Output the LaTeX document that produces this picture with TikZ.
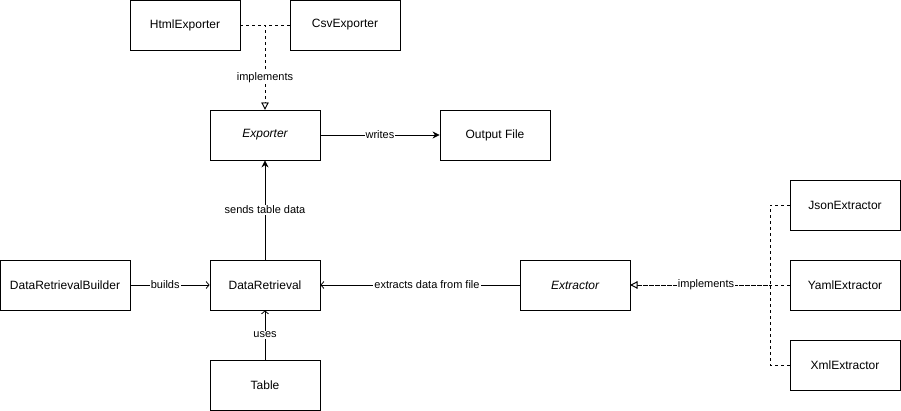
\documentclass[tikz,border=0pt]{standalone}
\usepackage{fontspec}
\setmainfont{Liberation Sans}
\usepackage{tikz}
\usetikzlibrary{arrows.meta}
\usetikzlibrary{positioning}
\tikzset{
  every node/.style={font=\fontsize{12}{14}\selectfont},
  every label/.style={font=\fontsize{11}{13}\selectfont}
}

\begin{document}
\begin{tikzpicture}[x=1pt,y=-1pt]
  % Define styles for classes and links
  \tikzset{
    cls/.style={
      draw,
      rectangle,
      fill=white,
      minimum width=110pt,
      minimum height=50pt,
      inner sep=0pt,
      line width=0.8pt
    },
    link/.style={
      draw,
      line width=0.8pt
    },
    assoc/.style={
      link,
      -{Stealth[length=7pt, width=7pt]}
    },
    dep/.style={
      link,
      -{Straight Barb[length=3pt, width=7pt]}
    },
    impl/.style={
      link,
      dash pattern=on 3pt off 3pt,
      -{Triangle[open, fill=white, length=7pt, width=7pt]}
    },
    lbl/.style={
      fill=white,
      inner sep=1pt,
      font=\fontsize{11}{13}\selectfont
    }
  }
  \useasboundingbox (0,0) rectangle (901,411);

  % Exporters
  \node[cls] (html) at (185,25) {HtmlExporter};
  \node[cls] (csv) at (345,25) {CsvExporter};
  \node[cls] (exporter) at (265,135) {\itshape Exporter};
  \node[cls] (output) at (495,135) {Output File};

  % Retrieval
  \node[cls, minimum width=130pt] (builder) at (65,285) {DataRetrievalBuilder};
  \node[cls] (retrieval) at (265,285) {DataRetrieval};
  \node[cls] (table) at (265,385) {Table};

  % Extractors
  \node[cls] (extractor) at (575,285) {\itshape Extractor};
  \node[cls] (json) at (845,205) {JsonExtractor};
  \node[cls] (yaml) at (845,285) {YamlExtractor};
  \node[cls] (xml) at (845,365) {XmlExtractor};
  \coordinate (ej) at (770,285);

  % Implementations of Exporter
  \draw[impl] (html.east) -| (exporter.north);
  \draw[impl] (csv.west) -| node[lbl, pos=0.81] {implements} (exporter.north);

  % Associations
  \draw[assoc] (exporter) -- node[lbl] {writes} (output);
  \draw[assoc] (retrieval) -- node[lbl] {sends table data} (exporter);
  \draw[dep] (builder) -- node[lbl, pos=0.44] {builds} (retrieval);
  \draw[dep] (table) -- node[lbl] {uses} (retrieval);
  \draw[dep] (extractor) -- node[lbl, pos=0.465] {extracts data from file} (retrieval);

  % Implementations of Extractor
  \draw[impl] (json.west) -| (ej) -- (extractor.east);
  \draw[impl] (xml.west) -| (ej) -- (extractor.east);
  \draw[impl] (yaml.west) -- node[lbl, pos=0.525] {implements} (extractor.east);
\end{tikzpicture}
\end{document}
